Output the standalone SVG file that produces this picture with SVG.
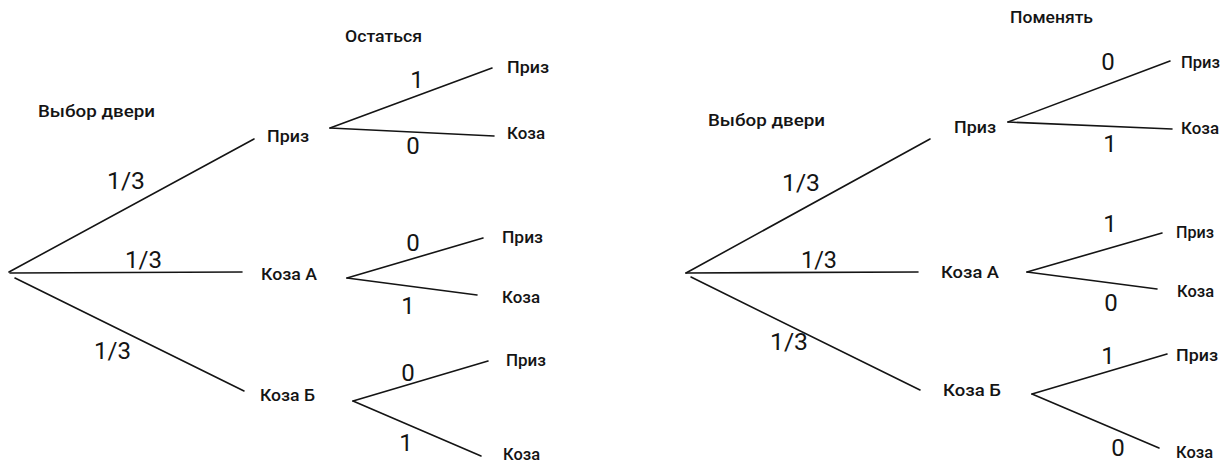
<svg xmlns="http://www.w3.org/2000/svg" width="1221" height="463" viewBox="0 0 1221 463">
<style>
.bg{fill:#ffffff}
.edge{stroke:#141414;stroke-width:1.6;stroke-linecap:round;fill:none}
.lbl{font-family:Roboto,"Liberation Sans",sans-serif;font-weight:500;font-size:17px;fill:#141414}
.num{font-family:Roboto,"Liberation Sans",sans-serif;font-weight:400;font-size:24px;fill:#141414}
.mid{text-anchor:middle}
</style>
<rect class="bg" x="0" y="0" width="1221" height="463"/>
<g id="connectors">
  <line class="edge" x1="9" y1="272" x2="254" y2="139"/>
  <line class="edge" x1="10" y1="273" x2="242" y2="272"/>
  <line class="edge" x1="15" y1="278" x2="244" y2="391"/>
  <line class="edge" x1="330" y1="128" x2="492" y2="68"/>
  <line class="edge" x1="330" y1="128" x2="494" y2="136"/>
  <line class="edge" x1="347" y1="278" x2="483" y2="238"/>
  <line class="edge" x1="347" y1="278" x2="477" y2="295"/>
  <line class="edge" x1="353" y1="401" x2="488" y2="361"/>
  <line class="edge" x1="353" y1="401" x2="481" y2="456"/>
  <line class="edge" x1="686" y1="273" x2="930" y2="139"/>
  <line class="edge" x1="686" y1="273" x2="918" y2="272"/>
  <line class="edge" x1="691" y1="277" x2="920" y2="390"/>
  <line class="edge" x1="1008" y1="122" x2="1170" y2="61"/>
  <line class="edge" x1="1008" y1="122" x2="1172" y2="129"/>
  <line class="edge" x1="1027" y1="272" x2="1162" y2="233"/>
  <line class="edge" x1="1027" y1="272" x2="1157" y2="289"/>
  <line class="edge" x1="1032" y1="394" x2="1167" y2="354"/>
  <line class="edge" x1="1032" y1="394" x2="1159" y2="448"/>
</g>
<g id="edge-labels">
  <text class="num" x="107" y="189" textLength="38" lengthAdjust="spacingAndGlyphs">1/3</text>
  <text class="num" x="125" y="268" textLength="37" lengthAdjust="spacingAndGlyphs">1/3</text>
  <text class="num" x="94" y="359" textLength="37" lengthAdjust="spacingAndGlyphs">1/3</text>
  <text class="num mid" x="417" y="88">1</text>
  <text class="num mid" x="413" y="154">0</text>
  <text class="num mid" x="413" y="251">0</text>
  <text class="num mid" x="408" y="314">1</text>
  <text class="num mid" x="408" y="381">0</text>
  <text class="num mid" x="406" y="451">1</text>
  <text class="num" x="782" y="191" textLength="38" lengthAdjust="spacingAndGlyphs">1/3</text>
  <text class="num" x="801" y="268" textLength="36" lengthAdjust="spacingAndGlyphs">1/3</text>
  <text class="num" x="770" y="350" textLength="38" lengthAdjust="spacingAndGlyphs">1/3</text>
  <text class="num mid" x="1108" y="70">0</text>
  <text class="num mid" x="1110" y="152">1</text>
  <text class="num mid" x="1110" y="232">1</text>
  <text class="num mid" x="1111" y="311">0</text>
  <text class="num mid" x="1108" y="364">1</text>
  <text class="num mid" x="1118" y="456">0</text>
</g>
<g id="header-left"><text class="lbl" x="345" y="41.5" textLength="77" lengthAdjust="spacingAndGlyphs">Остаться</text></g>
<g id="header-right"><text class="lbl" x="1010" y="23" textLength="83" lengthAdjust="spacingAndGlyphs">Поменять</text></g>
<g id="root-left"><text class="lbl" x="38" y="117" textLength="117" lengthAdjust="spacingAndGlyphs">Выбор двери</text></g>
<g id="root-right"><text class="lbl" x="708" y="126" textLength="117" lengthAdjust="spacingAndGlyphs">Выбор двери</text></g>
<g id="l-prize"><text class="lbl" x="267" y="141.5" textLength="42" lengthAdjust="spacingAndGlyphs">Приз</text></g>
<g id="l-goatA"><text class="lbl" x="261" y="280" textLength="56" lengthAdjust="spacingAndGlyphs">Коза А</text></g>
<g id="l-goatB"><text class="lbl" x="260" y="401" textLength="55" lengthAdjust="spacingAndGlyphs">Коза Б</text></g>
<g id="l-prize-prize"><text class="lbl" x="507" y="73" textLength="42" lengthAdjust="spacingAndGlyphs">Приз</text></g>
<g id="l-prize-goat"><text class="lbl" x="507" y="139" textLength="38" lengthAdjust="spacingAndGlyphs">Коза</text></g>
<g id="l-goatA-prize"><text class="lbl" x="502" y="243" textLength="41" lengthAdjust="spacingAndGlyphs">Приз</text></g>
<g id="l-goatA-goat"><text class="lbl" x="502" y="303" textLength="38" lengthAdjust="spacingAndGlyphs">Коза</text></g>
<g id="l-goatB-prize"><text class="lbl" x="506" y="366" textLength="40" lengthAdjust="spacingAndGlyphs">Приз</text></g>
<g id="l-goatB-goat"><text class="lbl" x="503" y="460" textLength="37" lengthAdjust="spacingAndGlyphs">Коза</text></g>
<g id="r-prize"><text class="lbl" x="954" y="133" textLength="42" lengthAdjust="spacingAndGlyphs">Приз</text></g>
<g id="r-goatA"><text class="lbl" x="941" y="278" textLength="58" lengthAdjust="spacingAndGlyphs">Коза А</text></g>
<g id="r-goatB"><text class="lbl" x="943" y="396" textLength="58" lengthAdjust="spacingAndGlyphs">Коза Б</text></g>
<g id="r-prize-prize"><text class="lbl" x="1181" y="68" textLength="39" lengthAdjust="spacingAndGlyphs">Приз</text></g>
<g id="r-prize-goat"><text class="lbl" x="1181" y="134" textLength="38" lengthAdjust="spacingAndGlyphs">Коза</text></g>
<g id="r-goatA-prize"><text class="lbl" x="1176" y="238" textLength="38" lengthAdjust="spacingAndGlyphs">Приз</text></g>
<g id="r-goatA-goat"><text class="lbl" x="1177" y="297" textLength="37" lengthAdjust="spacingAndGlyphs">Коза</text></g>
<g id="r-goatB-prize"><text class="lbl" x="1176" y="361" textLength="42" lengthAdjust="spacingAndGlyphs">Приз</text></g>
<g id="r-goatB-goat"><text class="lbl" x="1176" y="458" textLength="37" lengthAdjust="spacingAndGlyphs">Коза</text></g>
</svg>
